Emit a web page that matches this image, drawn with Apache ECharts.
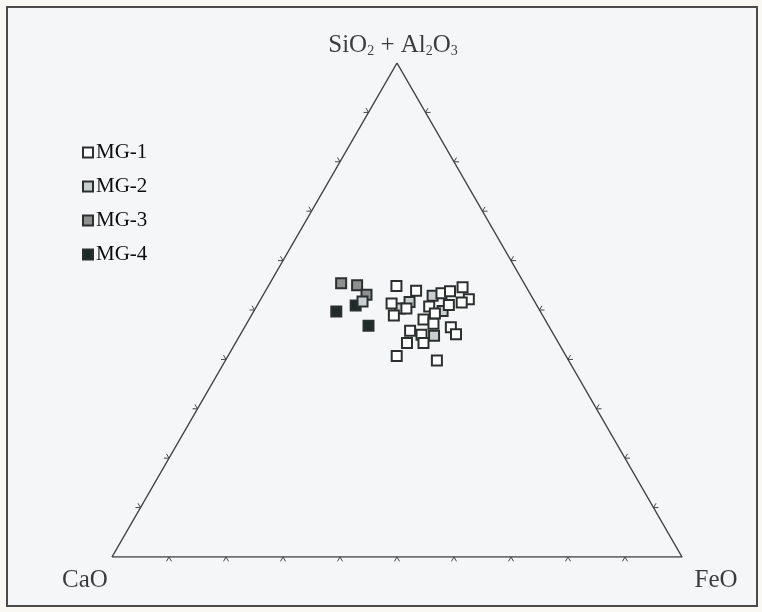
<!DOCTYPE html>
<html>
<head>
<meta charset="utf-8">
<title>CaO – FeO – SiO2+Al2O3 ternary diagram</title>
<script src="https://cdn.jsdelivr.net/npm/echarts@6/dist/echarts.min.js"></script>
<style>
  html, body { margin: 0; padding: 0; background: #faf8f3; }
  #chart { width: 762px; height: 612px; }
</style>
</head>
<body>
<div id="chart"></div>
<script>
// Compositions in percent: [CaO, FeO, SiO2 + Al2O3]
const mg1 = [
  [22.7, 22.5, 54.9], [19.7, 26.4, 53.9], [25.3, 23.4, 51.3], [23.2, 26.5, 50.3],
  [26.1, 25.0, 48.9], [15.5, 31.1, 53.4], [13.8, 32.4, 53.8], [11.2, 34.2, 54.6],
  [11.3, 36.5, 52.2], [12.9, 35.6, 51.5], [19.0, 30.3, 50.7], [15.4, 33.6, 51.0],
  [18.7, 32.0, 49.3], [21.3, 30.6, 48.1], [20.0, 32.8, 47.2], [17.3, 36.2, 46.5],
  [17.1, 37.8, 45.1], [24.8, 29.4, 45.8], [23.2, 31.8, 45.0], [26.6, 30.1, 43.3],
  [23.7, 33.0, 43.3], [29.7, 29.6, 40.7], [23.1, 37.1, 39.8]
];
const mg2 = [
  [30.2, 18.1, 51.7], [24.3, 25.4, 50.3], [22.0, 26.4, 51.6],
  [17.3, 29.8, 52.9], [17.1, 33.1, 49.8], [21.1, 34.1, 44.8]
];
const mg3 = [
  [32.1, 12.5, 55.4], [29.5, 15.5, 55.0], [28.8, 18.1, 53.1]
];
const mg4 = [
  [35.8, 14.5, 49.7], [31.8, 17.3, 50.9], [31.6, 21.6, 46.8]
];

// Corner names and the tick fractions along each side
const cornerNames = ['CaO', 'FeO', 'SiO2 + Al2O3'];
const tickFractions = [0.1, 0.2, 0.3, 0.4, 0.5, 0.6, 0.7, 0.8, 0.9];

const H = Math.sqrt(3) / 2;

// Ternary composition -> cartesian (CaO at left, FeO at right, SiO2+Al2O3 at top)
function toXY(c) {
  const sum = c[0] + c[1] + c[2];
  const fe = c[1] / sum, si = c[2] / sum;
  return [fe + si / 2, si * H];
}

const corners = [[100, 0, 0], [0, 100, 0], [0, 0, 100]].map(toXY);

// Tick points on each side, tagged with the side index
const tickData = [];
tickFractions.forEach(t => {
  tickData.push(toXY([100 * (1 - t), 100 * t, 0]).concat(0)); // base
  tickData.push(toXY([0, 100 * (1 - t), 100 * t]).concat(1)); // right side
  tickData.push(toXY([100 * t, 0, 100 * (1 - t)]).concat(2)); // left side
});

// Outward tick legs in screen space for each side
const LEG = 5;
const legDirs = [
  [[-0.5, 0.866], [0.5, 0.866]],
  [[1, 0], [0.5, -0.866]],
  [[-1, 0], [-0.5, -0.866]]
];

const ink = '#0d0d0d';
const serif = '"Liberation Serif", "DejaVu Serif", serif';

function series(name, data, fill) {
  return {
    name: name,
    type: 'scatter',
    data: data.map(toXY),
    symbol: 'rect',
    symbolSize: 10,
    itemStyle: { color: fill, borderColor: '#2b302f', borderWidth: 2, opacity: 1 },
    z: 5
  };
}

const chart = echarts.init(document.getElementById('chart'), null, { renderer: 'canvas' });

chart.setOption({
  animation: false,
  backgroundColor: 'transparent',
  graphic: [{
    type: 'rect',
    shape: { x: 7, y: 7, width: 750, height: 599 },
    style: { fill: '#f5f6f8', stroke: '#4b4b4b', lineWidth: 2 },
    z: -10
  }],
  grid: { left: 112, right: 80, top: 63, bottom: 55 },
  xAxis: { type: 'value', min: 0, max: 1, show: false },
  yAxis: { type: 'value', min: 0, max: H, show: false },
  legend: {
    orient: 'vertical',
    left: 77,
    top: 137,
    itemWidth: 10,
    itemHeight: 10,
    itemGap: 13,
    data: ['MG-1', 'MG-2', 'MG-3', 'MG-4'],
    textStyle: { fontFamily: serif, fontSize: 21, color: ink, padding: [0, 0, 0, -2] }
  },
  series: [
    {
      type: 'line',
      data: [corners[0], corners[1], corners[2], corners[0]],
      symbol: 'none',
      lineStyle: { color: '#444', width: 1.5 },
      silent: true,
      z: 2
    },
    {
      type: 'custom',
      data: tickData,
      silent: true,
      z: 3,
      renderItem: function (params, api) {
        const p = api.coord([api.value(0), api.value(1)]);
        const d = legDirs[api.value(2)];
        return {
          type: 'polyline',
          shape: {
            points: [
              [p[0] + d[0][0] * LEG, p[1] + d[0][1] * LEG],
              p,
              [p[0] + d[1][0] * LEG, p[1] + d[1][1] * LEG]
            ]
          },
          style: { stroke: '#444', lineWidth: 1, fill: null }
        };
      }
    },
    {
      type: 'scatter',
      silent: true,
      symbolSize: 0,
      z: 4,
      data: [
        { value: corners[0], label: { offset: [-27, 23], formatter: cornerNames[0] } },
        { value: corners[1], label: { offset: [34, 23], formatter: cornerNames[1] } },
        { value: corners[2], label: { offset: [-4, -19], formatter: '{n|SiO}{s|2}{n| + Al}{s|2}{n|O}{s|3}' } }
      ],
      label: {
        show: true,
        position: 'inside',
        align: 'center',
        verticalAlign: 'middle',
        fontFamily: serif,
        fontSize: 25,
        color: ink,
        rich: {
          n: { fontFamily: serif, fontSize: 25, color: ink, verticalAlign: 'bottom', lineHeight: 28 },
          s: { fontFamily: serif, fontSize: 14, color: ink, verticalAlign: 'bottom', lineHeight: 24 }
        }
      }
    },
    series('MG-4', mg4, '#1e2b28'),
    series('MG-3', mg3, '#8c9190'),
    series('MG-2', mg2, '#c9ced0'),
    series('MG-1', mg1, '#ffffff')
  ]
});
</script>
</body>
</html>
